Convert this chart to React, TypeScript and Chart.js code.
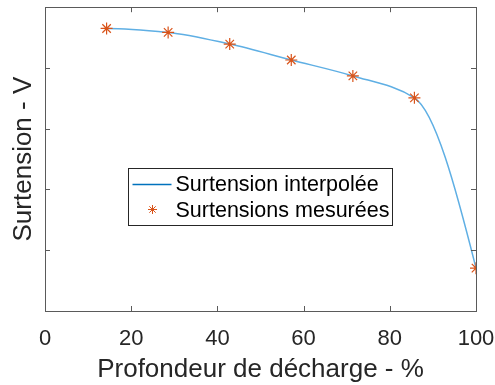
import React, { useEffect, useRef } from "react";
import { Chart, registerables } from "chart.js";

Chart.register(...registerables);

const depthOfDischarge = [14.29, 28.57, 42.86, 57.14, 71.43, 85.71, 100];
const overvoltage = [4.65, 4.585, 4.393, 4.131, 3.869, 3.508, 0.705];
const xTicks = [0, 20, 40, 60, 80, 100];
const yTicks = [0, 1, 2, 3, 4, 5];
const lineLabel = "Surtension interpolée";
const markerLabel = "Surtensions mesurées";
const xTitle = "Profondeur de décharge - %";
const yTitle = "Surtension - V";

const FONT = "'Liberation Sans', Arial, Helvetica, sans-serif";
const AXIS = "#262626";
const LINE_PLOT = "rgb(95,175,228)";
const LINE_LEGEND = "#0072BD";
const MARKER = "#D95319";

const sign = (v: number) => (v > 0 ? 1 : v < 0 ? -1 : 0);

// Shape-preserving piecewise cubic (pchip) tangents applied to the
// line element's bezier control points, computed from the parsed points.
const pchipPlugin = {
  id: "pchip",
  beforeDatasetDraw(chart: any, args: any) {
    if (args.index !== 0) return;
    const meta = chart.getDatasetMeta(0);
    const line = meta.dataset;
    const pts = meta.data;
    const n = pts.length;
    if (n < 3) return;
    if (line.updateControlPoints) line.updateControlPoints(chart.chartArea, "x");
    const h: number[] = [];
    const del: number[] = [];
    for (let i = 0; i < n - 1; i++) {
      h.push(pts[i + 1].x - pts[i].x);
      del.push((pts[i + 1].y - pts[i].y) / h[i]);
    }
    const d: number[] = new Array(n).fill(0);
    for (let k = 1; k < n - 1; k++) {
      if (sign(del[k - 1]) * sign(del[k]) > 0) {
        const w1 = 2 * h[k] + h[k - 1];
        const w2 = h[k] + 2 * h[k - 1];
        d[k] = (w1 + w2) / (w1 / del[k - 1] + w2 / del[k]);
      }
    }
    const endSlope = (h0: number, h1: number, d0: number, d1: number) => {
      let s = ((2 * h0 + h1) * d0 - h0 * d1) / (h0 + h1);
      if (sign(s) !== sign(d0)) s = 0;
      else if (sign(d0) !== sign(d1) && Math.abs(s) > Math.abs(3 * d0)) s = 3 * d0;
      return s;
    };
    d[0] = endSlope(h[0], h[1], del[0], del[1]);
    d[n - 1] = endSlope(h[n - 2], h[n - 3], del[n - 2], del[n - 3]);
    for (let i = 0; i < n; i++) {
      const p = pts[i];
      const hl = i > 0 ? h[i - 1] / 3 : 0;
      const hr = i < n - 1 ? h[i] / 3 : 0;
      p.cp1x = p.x - hl;
      p.cp1y = p.y - hl * d[i];
      p.cp2x = p.x + hr;
      p.cp2y = p.y + hr * d[i];
    }
    line._pointsUpdated = true;
    line._path = undefined;
  },
};

const framePlugin = {
  id: "frame",
  afterDraw(chart: any) {
    const { ctx, chartArea: a, scales } = chart;
    const x = scales.x;
    const y = scales.y;
    ctx.save();
    ctx.strokeStyle = "#5a5a5a";
    ctx.lineWidth = 1;
    ctx.strokeRect(Math.round(a.left) + 0.5, Math.round(a.top) + 0.5, Math.round(a.right - a.left), Math.round(a.bottom - a.top));
    const tl = 5;
    ctx.beginPath();
    xTicks.forEach((v) => {
      const px = Math.round(x.getPixelForValue(v)) + 0.5;
      ctx.moveTo(px, a.bottom);
      ctx.lineTo(px, a.bottom - tl);
      ctx.moveTo(px, a.top);
      ctx.lineTo(px, a.top + tl);
    });
    yTicks.forEach((v) => {
      const py = Math.round(y.getPixelForValue(v)) + 0.5;
      ctx.moveTo(a.left, py);
      ctx.lineTo(a.left + tl, py);
      ctx.moveTo(a.right, py);
      ctx.lineTo(a.right - tl, py);
    });
    ctx.stroke();

    // legend
    const lx = 128.5, ly = 168.5, lw = 264, lh = 57;
    ctx.fillStyle = "#ffffff";
    ctx.fillRect(lx, ly, lw, lh);
    ctx.strokeStyle = "#262626";
    ctx.strokeRect(lx, ly, lw, lh);
    ctx.font = `21.5px ${FONT}`;
    ctx.fillStyle = "#000000";
    ctx.textBaseline = "middle";
    ctx.textAlign = "left";
    const r1 = ly + 16, r2 = ly + 43;
    ctx.strokeStyle = LINE_LEGEND;
    ctx.lineWidth = 1.5;
    ctx.beginPath();
    ctx.moveTo(lx + 4, r1);
    ctx.lineTo(lx + 43, r1);
    ctx.stroke();
    ctx.fillText(lineLabel, lx + 47, r1 + 1);
    const cx = lx + 24, cy = r2 - 2, s = 4.5;
    ctx.strokeStyle = MARKER;
    ctx.lineWidth = 1;
    ctx.beginPath();
    ctx.moveTo(cx - s, cy); ctx.lineTo(cx + s, cy);
    ctx.moveTo(cx, cy - s); ctx.lineTo(cx, cy + s);
    const dd = s * 0.707;
    ctx.moveTo(cx - dd, cy - dd); ctx.lineTo(cx + dd, cy + dd);
    ctx.moveTo(cx - dd, cy + dd); ctx.lineTo(cx + dd, cy - dd);
    ctx.stroke();
    ctx.fillText(markerLabel, lx + 47, r2);
    ctx.restore();
  },
};

export default function App() {
  const ref = useRef<HTMLCanvasElement>(null);
  useEffect(() => {
    document.body.style.margin = "0";
    const points = depthOfDischarge.map((x, i) => ({ x, y: overvoltage[i] }));
    const chart = new Chart(ref.current!, {
      type: "scatter",
      data: {
        datasets: [
          {
            label: lineLabel,
            data: points,
            showLine: true,
            borderColor: LINE_PLOT,
            borderWidth: 1.5,
            pointRadius: 0,
            cubicInterpolationMode: "monotone",
            order: 2,
          } as any,
          {
            label: markerLabel,
            data: points,
            showLine: false,
            pointStyle: "star",
            pointRadius: 6,
            borderColor: MARKER,
            backgroundColor: MARKER,
            pointBorderWidth: 1.2,
            order: 1,
          } as any,
        ],
      },
      options: {
        animation: false,
        responsive: false,
        maintainAspectRatio: false,
        layout: { padding: { top: 6, right: 19, left: 0, bottom: 0 } },
        plugins: { legend: { display: false }, tooltip: { enabled: false } },
        scales: {
          x: {
            type: "linear",
            min: 0,
            max: 100,
            afterBuildTicks: (s: any) => {
              s.ticks = xTicks.map((v) => ({ value: v }));
            },
            afterFit: (s: any) => {
              s.height = 74;
              s.paddingLeft = 0;
              s.paddingRight = 0;
            },
            grid: { display: false, drawTicks: false },
            border: { display: false },
            ticks: {
              color: AXIS,
              font: { family: FONT, size: 22 },
              padding: 15,
              maxRotation: 0,
            },
            title: {
              display: true,
              text: xTitle,
              color: AXIS,
              font: { family: FONT, size: 26 },
              padding: { top: 0, bottom: 0 },
            },
          },
          y: {
            type: "linear",
            min: 0,
            max: 5,
            afterFit: (s: any) => {
              s.width = 45;
              s.paddingTop = 0;
              s.paddingBottom = 0;
            },
            grid: { display: false, drawTicks: false },
            border: { display: false },
            ticks: { display: false },
            title: {
              display: true,
              text: yTitle,
              color: AXIS,
              font: { family: FONT, size: 26 },
              padding: { top: 8, bottom: 0 },
            },
          },
        },
      },
      plugins: [pchipPlugin, framePlugin],
    });
    return () => chart.destroy();
  }, []);
  return (
    <div style={{ width: 495, height: 385, background: "#fff" }}>
      <canvas ref={ref} width={495} height={385} style={{ display: "block" }} />
    </div>
  );
}
